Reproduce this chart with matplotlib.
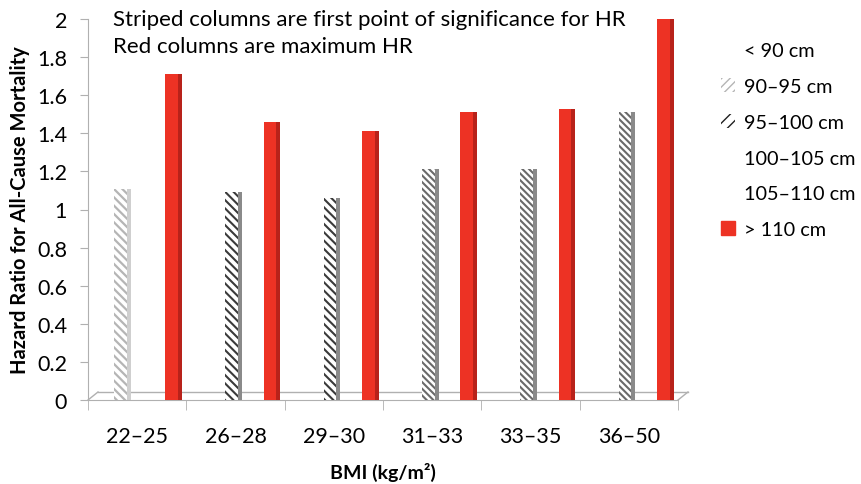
import numpy as np
import matplotlib
matplotlib.use('Agg')
import matplotlib.pyplot as plt
from matplotlib.patches import Patch
from matplotlib.transforms import ScaledTranslation

plt.rcParams['font.family'] = ['Lato', 'DejaVu Sans']

# data
bmi_groups = ['22–25', '26–28', '29–30', '31–33', '33–35', '36–50']
waist_labels = ['< 90 cm', '90–95 cm', '95–100 cm', '100–105 cm', '105–110 cm', '> 110 cm']
nan = np.nan
hr_90_95 = [1.11, nan, nan, nan, nan, nan]
hr_95_100 = [nan, 1.09, 1.06, 1.21, 1.21, 1.51]
hr_over_110 = [1.71, 1.46, 1.41, 1.51, 1.53, 2.00]

fig = plt.figure(figsize=(8.61, 4.85), dpi=100)
ax = fig.add_axes([88/861, 1-401/485, 590/861, 381/485])
x = np.arange(len(bmi_groups))

slot = 0.13
face_w = 0.13
side_w = 0.04

def draw(vals, k, face, side, hatch_col=None, hatches=None, hlw=1.0):
    off = -0.28 + slot*k
    bars = ax.bar(x + off - 0.02, vals, face_w, color=face, linewidth=0, zorder=3)
    ax.bar(x + off + 0.065, vals, side_w, color=side, linewidth=0, zorder=3)
    if hatches is not None:
        for b, h, c in zip(bars, hatches, hatch_col):
            b.set_hatch(h)
            b.set_edgecolor(c)
            if hasattr(b, 'set_hatch_linewidth'):
                b.set_hatch_linewidth(hlw)
    return bars

draw(hr_90_95, 1, 'white', '#cfcfcf', ['#b5b5b5']*6, ['\\\\\\\\']*6, 1.6)
draw(hr_95_100, 2, 'white', '#8a8a8a',
     ['#3a3a3a', '#3a3a3a', '#3a3a3a', '#6a6a6a', '#6a6a6a', '#6a6a6a'],
     ['\\\\\\\\', '\\\\\\\\', '\\\\\\\\', '\\\\\\\\\\', '\\\\\\\\\\', '\\\\\\\\\\'], 1.5)
draw(hr_over_110, 5, '#ed3224', '#b8221a')

# 3d-ish floor
grey = '#b0b0b0'
back = ax.transData + ScaledTranslation(10/100, 8/100, fig.dpi_scale_trans)
ax.plot([-0.5, 5.5], [0, 0], color=grey, lw=1, transform=back, zorder=2, clip_on=False)
for xe in [-0.5, 5.5]:
    ax.plot([xe, xe + 10/98.3], [0, 8/190], color=grey, lw=1, zorder=2, clip_on=False)

ax.set_xlim(-0.5, 5.5)
ax.set_ylim(0, 2)
ax.set_yticks(np.arange(0, 2.01, 0.2))
ax.set_yticklabels(['0', '0.2', '0.4', '0.6', '0.8', '1', '1.2', '1.4', '1.6', '1.8', '2'])
ax.set_xticks(x)
ax.set_xticklabels(bmi_groups)
ax.set_xticks(np.arange(-0.5, 6, 1), minor=True)
ax.tick_params(axis='x', which='major', length=0, pad=19, labelsize=15.5)
ax.tick_params(axis='x', which='minor', length=7, color=grey, direction='out')
ax.tick_params(axis='y', length=6, color=grey, pad=9, labelsize=15.5)
for s in ['top', 'right']:
    ax.spines[s].set_visible(False)
ax.spines['left'].set_color(grey)
ax.spines['bottom'].set_color(grey)

ax.set_ylabel('Hazard Ratio for All-Cause Mortality', fontsize=14.5, fontweight='bold', labelpad=5)
ax.set_xlabel('BMI (kg/m²)', fontsize=14, fontweight='bold', labelpad=11)

fig.text(113/861, 1-20/485, 'Striped columns are first point of significance for HR',
         fontsize=16, va='center', ha='left')
fig.text(113/861, 1-47/485, 'Red columns are maximum HR', fontsize=16, va='center', ha='left')

handles = [
    Patch(facecolor='white', edgecolor='white'),
    Patch(facecolor='white', edgecolor='#b5b5b5', hatch='////', linewidth=0),
    Patch(facecolor='white', edgecolor='#202020', hatch='///', linewidth=0),
    Patch(facecolor='white', edgecolor='white'),
    Patch(facecolor='white', edgecolor='white'),
    Patch(facecolor='#ed3224', edgecolor='#ed3224'),
]
fig.legend(handles, waist_labels, loc='upper left', bbox_to_anchor=(721/861, 1-43/485),
           frameon=False, fontsize=14.3, handlelength=0.7, handleheight=0.7,
           handletextpad=0.45, labelspacing=0.95, borderaxespad=0, borderpad=0)

fig.savefig('out.png', dpi=100)
